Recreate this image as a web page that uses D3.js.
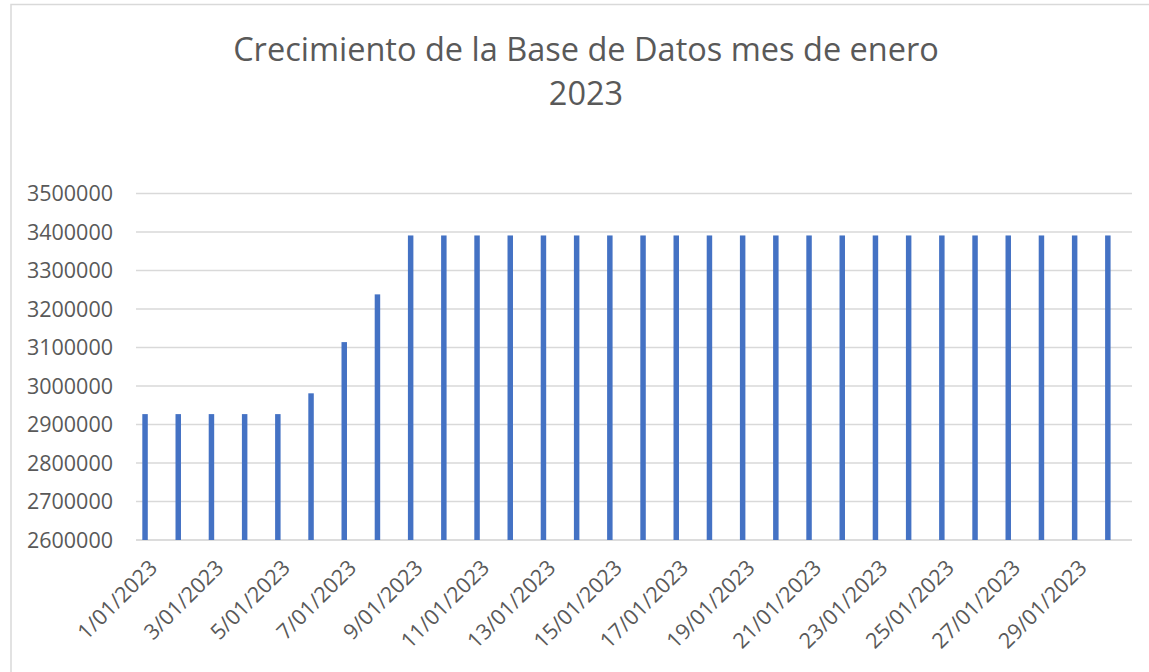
<!DOCTYPE html>
<html>
<head>
<meta charset="utf-8">
<script src="https://cdn.jsdelivr.net/npm/d3@7"></script>
<style>
  html, body { margin: 0; padding: 0; background: #fff; overflow: hidden; }
  text { font-family: "Open Sans", sans-serif; fill: #595959; }
</style>
</head>
<body>
<svg id="chart" width="1149" height="672"></svg>
<script>
const titleLines = ['Crecimiento de la Base de Datos mes de enero', '2023'];

const dates = [
  '1/01/2023', '2/01/2023', '3/01/2023', '4/01/2023', '5/01/2023',
  '6/01/2023', '7/01/2023', '8/01/2023', '9/01/2023', '10/01/2023',
  '11/01/2023', '12/01/2023', '13/01/2023', '14/01/2023', '15/01/2023',
  '16/01/2023', '17/01/2023', '18/01/2023', '19/01/2023', '20/01/2023',
  '21/01/2023', '22/01/2023', '23/01/2023', '24/01/2023', '25/01/2023',
  '26/01/2023', '27/01/2023', '28/01/2023', '29/01/2023', '30/01/2023'
];

const values = [
  2927000, 2927000, 2927000, 2927000, 2927000,
  2981000, 3114000, 3238000, 3391000, 3391000,
  3391000, 3391000, 3391000, 3391000, 3391000,
  3391000, 3391000, 3391000, 3391000, 3391000,
  3391000, 3391000, 3391000, 3391000, 3391000,
  3391000, 3391000, 3391000, 3391000, 3391000
];

const yTicks = [2600000, 2700000, 2800000, 2900000, 3000000,
  3100000, 3200000, 3300000, 3400000, 3500000];

const svg = d3.select('#chart');
const plot = { left: 136, right: 1132, top: 193.5, bottom: 540 };

// chart area border (only top and left visible in the picture)
svg.append('path')
  .attr('d', 'M11,672V4.5H1149')
  .attr('fill', 'none')
  .attr('stroke', '#d9d9d9')
  .attr('stroke-width', 1.5);

// title
svg.append('g')
  .selectAll('text')
  .data(titleLines)
  .join('text')
  .attr('x', 586)
  .attr('y', (d, i) => 61 + i * 44)
  .attr('text-anchor', 'middle')
  .attr('font-size', '32.5px')
  .text((d) => d);

const x = d3.scaleBand()
  .domain(dates)
  .range([plot.left, plot.right])
  .padding(0);

const y = d3.scaleLinear()
  .domain([2600000, 3500000])
  .range([plot.bottom, plot.top]);

// gridlines
svg.append('g')
  .selectAll('line')
  .data(yTicks)
  .join('line')
  .attr('x1', plot.left)
  .attr('x2', plot.right)
  .attr('y1', (d) => y(d))
  .attr('y2', (d) => y(d))
  .attr('stroke', (d) => (d === 2600000 ? '#d0d0d0' : '#d9d9d9'))
  .attr('stroke-width', 1.5);

// y tick labels
svg.append('g')
  .selectAll('text')
  .data(yTicks)
  .join('text')
  .attr('x', 113)
  .attr('y', (d) => y(d))
  .attr('dy', '0.36em')
  .attr('text-anchor', 'end')
  .attr('font-size', '21.5px')
  .text((d) => d3.format('d')(d));

// bars (sit slightly left within each day slot)
svg.append('g')
  .selectAll('rect')
  .data(values)
  .join('rect')
  .attr('x', (d, i) => x(dates[i]) + x.bandwidth() * 0.19)
  .attr('width', x.bandwidth() * 0.165)
  .attr('y', (d) => y(d))
  .attr('height', (d) => y(2600000) - y(d))
  .attr('fill', '#4472c4');

// x tick labels, every other day, rotated
svg.append('g')
  .selectAll('text')
  .data(dates.filter((d, i) => i % 2 === 0))
  .join('text')
  .attr('text-anchor', 'end')
  .attr('font-size', '21.5px')
  .attr('transform', (d) =>
    `translate(${x(d) + x.bandwidth() / 2 + 6},${plot.bottom + 29}) rotate(-45)`)
  .text((d) => d);
</script>
</body>
</html>
